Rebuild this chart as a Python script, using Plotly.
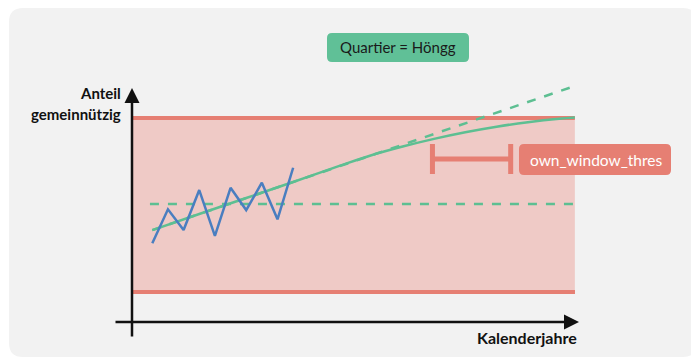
import plotly.graph_objects as go

W, H = 699, 358
OFF = 8  # page body margin shifts the figure by this many px

# ---- data (schematic units: years, share in % of threshold band) ----
years_obs = [0, 1, 2, 3, 4, 5, 6, 7, 8, 9]
share_obs = [28.0, 47.5, 35.6, 58.6, 32.2, 59.9, 47.1, 62.8, 41.8, 71.4]

mean_years = [-0.15, 27.0]
mean_share = [50.6, 50.6]

lin_years = [0, 27.0]
lin_share = [35.6, 118.4]

curve_years = [0, 3, 6, 9, 12, 14, 16, 18, 20, 22, 24, 26, 27]
curve_share = [35.6, 44.8, 54.0, 63.2, 72.6, 78.6, 83.6, 88.0, 91.8, 95.0, 97.6, 99.6, 100.3]

band_years = [-1.3, 27.0]
band_upper = [100, 100]
band_lower = [0, 0]

window_center = 20.4
window_half = 2.5
window_share = 76.4

title_text = "Quartier = Höngg"
window_label = "own_window_thres"
y_label = ["Anteil", "gemeinnützig"]
x_label = "Kalenderjahre"

# ---- colours ----
RED = "#e67f73"
BAND = "#efcac6"
GREEN = "#5dbf92"
BLUE = "#4a7ec0"
BG = "#f2f2f2"

# pixel mapping helpers (layout only)
X0PX, XSC = 152.3 - OFF, 15.65
Y0PX, YSC = 292.0 - OFF, 1.74
xr = [-X0PX / XSC, (W - X0PX) / XSC]
yr = [-(H - Y0PX) / YSC, Y0PX / YSC]


def px(x):
    return (x - OFF) / W


def py(y):
    return 1 - (y - OFF) / H


def rrect(x0, y0, x1, y1, r):
    rx, ry = r / W, r / H
    a, b, c, d = px(x0), py(y0), px(x1), py(y1)  # b top, d bottom (paper)
    return (f"M {a+rx},{b} L {c-rx},{b} Q {c},{b} {c},{b-ry} "
            f"L {c},{d+ry} Q {c},{d} {c-rx},{d} L {a+rx},{d} "
            f"Q {a},{d} {a},{d+ry} L {a},{b-ry} Q {a},{b} {a+rx},{b} Z")


fig = go.Figure()

# threshold band
fig.add_trace(go.Scatter(x=band_years, y=band_lower, mode="lines",
                         line=dict(color=RED, width=4), hoverinfo="skip"))
fig.add_trace(go.Scatter(x=band_years, y=band_upper, mode="lines",
                         line=dict(color=RED, width=4), fill="tonexty",
                         fillcolor=BAND, hoverinfo="skip"))
fig.add_trace(go.Scatter(x=band_years, y=band_lower, mode="lines",
                         line=dict(color=RED, width=4), hoverinfo="skip"))

# mean (dashed horizontal)
fig.add_trace(go.Scatter(x=mean_years, y=mean_share, mode="lines",
                         line=dict(color=GREEN, width=2.5, dash="dash")))
# linear trend (dashed)
fig.add_trace(go.Scatter(x=lin_years, y=lin_share, mode="lines",
                         line=dict(color=GREEN, width=2.5, dash="dash")))
# smooth curve
fig.add_trace(go.Scatter(x=curve_years, y=curve_share, mode="lines",
                         line=dict(color=GREEN, width=2.5, shape="spline")))
# observations
fig.add_trace(go.Scatter(x=years_obs, y=share_obs, mode="lines",
                         line=dict(color=BLUE, width=2.5)))

# window marker
fig.add_trace(go.Scatter(x=[window_center], y=[window_share], mode="markers",
                         marker=dict(size=1, color=RED),
                         error_x=dict(type="constant", value=window_half,
                                      color=RED, thickness=5, width=15)))

shapes = [
    dict(type="path", xref="paper", yref="paper", path=rrect(9, 8, 697, 357, 14),
         fillcolor=BG, line=dict(width=0), layer="below"),
    dict(type="path", xref="paper", yref="paper", path=rrect(327, 33, 469, 62, 5),
         fillcolor="#60c097", line=dict(width=0), layer="above"),
    dict(type="path", xref="paper", yref="paper", path=rrect(519, 144, 671, 175, 5),
         fillcolor=RED, line=dict(width=0), layer="above"),
]

FONT = "Lato"
annotations = [
    dict(x=px(398), y=py(47.5), xref="paper", yref="paper", text=title_text,
         showarrow=False, font=dict(family=FONT, size=15, color="#1a1a1a"),
         xanchor="center", yanchor="middle"),
    dict(x=px(596), y=py(159.5), xref="paper", yref="paper", text=window_label,
         showarrow=False, font=dict(family=FONT, size=15.5, color="white"),
         xanchor="center", yanchor="middle"),
    dict(x=px(123), y=py(93), xref="paper", yref="paper", text=f"<b>{y_label[0]}</b>",
         showarrow=False, font=dict(family=FONT, size=15, color="#111"),
         xanchor="right", yanchor="middle"),
    dict(x=px(123), y=py(114), xref="paper", yref="paper", text=f"<b>{y_label[1]}</b>",
         showarrow=False, font=dict(family=FONT, size=15, color="#111"),
         xanchor="right", yanchor="middle"),
    dict(x=px(579), y=py(337), xref="paper", yref="paper", text=f"<b>{x_label}</b>",
         showarrow=False, font=dict(family=FONT, size=16, color="#111"),
         xanchor="right", yanchor="middle"),
    # y axis arrow
    dict(x=px(132), y=py(88), xref="paper", yref="paper",
         ax=0, ay=250, axref="pixel", ayref="pixel", text="",
         showarrow=True, arrowhead=2, arrowsize=1.2, arrowwidth=2.5, arrowcolor="#111"),
    # x axis arrow
    dict(x=px(579), y=py(322), xref="paper", yref="paper",
         ax=-465, ay=0, axref="pixel", ayref="pixel", text="",
         showarrow=True, arrowhead=2, arrowsize=1.2, arrowwidth=2.5, arrowcolor="#111"),
]

fig.update_layout(
    width=W, height=H, margin=dict(l=0, r=0, t=0, b=0),
    paper_bgcolor="white", plot_bgcolor="rgba(0,0,0,0)",
    showlegend=False, shapes=shapes, annotations=annotations,
    xaxis=dict(range=xr, visible=False, fixedrange=True),
    yaxis=dict(range=yr, visible=False, fixedrange=True),
)

fig.write_html("out.html")
